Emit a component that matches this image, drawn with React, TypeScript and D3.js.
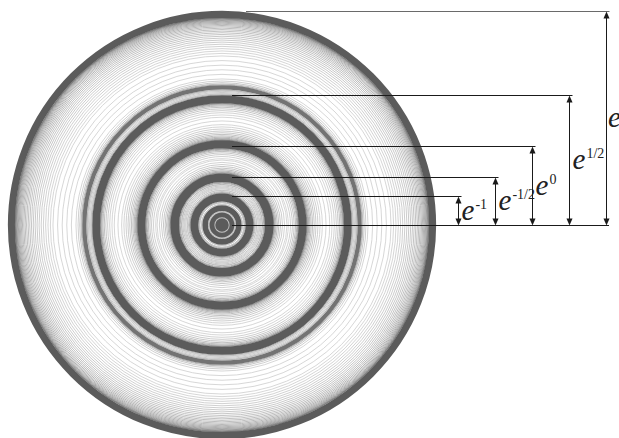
import React from 'react';
import * as d3 from 'd3';

// Radii marked on the right, as powers of e
const exponents = [-1, -0.5, 0, 0.5, 1];
const exponentLabels = ['-1', '-1/2', '0', '1/2', ''];

// Dark rings of the disk, radii in units of e^0 (inner edge, outer edge)
const ringInner = [0, 0.097, 0.178, 0.3, 0.545, 0.972, 1.548, 1.722, 2.63];
const ringOuter = [0.086, 0.158, 0.25, 0.4, 0.655, 1.075, 1.648, 1.775, 2.72];
// Width of the shaded fringe on each side of a ring (same units)
const fringeIn = [0, 0.005, 0.015, 0.04, 0.1, 0.13, 0.15, 0.05, 0.45];
const fringeOut = [0.005, 0.008, 0.035, 0.11, 0.17, 0.2, 0.06, 0.08, 0];
// Ring darkness, 1 = full
const ringTone = [1, 1, 1, 1, 1, 1, 1, 0.78, 1];

const W = 619;
const H = 438;
const CX = 222;
const CY = 225;
const DARK = '#5b5b5b';
const LIGHT = '#cacaca';
// spacing (px) of the fine circles in the plain gap after each ring
const gapStep = [0, 0, 1.8, 2.4, 3.1, 3.7, 4.0, 4.6, 0];

type Circ = { r: number; w: number; c: string };

export default function App() {
  const r = d3.scaleLinear().domain([0, Math.E]).range([0, 214]);
  const xArrow = d3.scalePoint<number>().domain(exponents).range([458, 606]);

  const fine: Circ[] = [];
  const cores: Circ[] = [];

  const fringe = (edge: number, dir: number, width: number, color: string) => {
    if (width <= 0.3) return;
    const n = Math.max(2, Math.ceil(width / 1.4));
    const mix = d3.interpolateRgb(color, LIGHT);
    for (let k = 1; k <= n; k++) {
      const t = k / n;
      const d = width * Math.pow(t, 1.8);
      fine.push({ r: edge + dir * d, w: 0.75, c: mix(Math.pow(t, 0.55)) });
    }
  };

  ringInner.forEach((inn, i) => {
    const rin = r(inn);
    const rout = r(ringOuter[i]);
    const color = d3.interpolateRgb(LIGHT, DARK)(ringTone[i]);
    const fi = r(fringeIn[i]);
    const fo = r(fringeOut[i]);
    fringe(rin, -1, fi, color);
    fringe(rout, 1, fo, color);
    cores.push({ r: (rin + rout) / 2, w: rout - rin, c: color });
    if (i < ringInner.length - 1 && gapStep[i] > 0) {
      const start = rout + fo;
      const end = r(ringInner[i + 1]) - r(fringeIn[i + 1]);
      const step = gapStep[i];
      for (let rr = start + step; rr < end - step * 0.4; rr += step) {
        fine.push({ r: rr, w: 0.75, c: LIGHT });
      }
    }
  });

  const yOf = (k: number) => Math.round(CY - r(Math.exp(k))) + 0.5;
  const yBase = CY + 0.5;
  const ink = '#1a1a1a';

  const head = (x: number, y: number, dir: number) =>
    `M${x},${y} L${x - 3},${y + dir * 7} L${x + 3},${y + dir * 7} Z`;

  return (
    <svg
      width={W}
      height={H}
      style={{ position: 'absolute', left: 0, top: 0, background: '#fff' }}
    >
      <g transform={`translate(${CX},${CY})`} fill="none">
        {fine.map((c, i) => (
          <circle key={'f' + i} r={c.r} stroke={c.c} strokeWidth={c.w} />
        ))}
        {cores.map((c, i) => (
          <circle key={'c' + i} r={c.r} stroke={c.c} strokeWidth={c.w} />
        ))}
      </g>

      <g>
        <line x1={CX + 10} x2={609} y1={yBase} y2={yBase} stroke={ink} strokeWidth={1} />
        {exponents.map((k, i) => {
          const x = Math.round(xArrow(k) as number) + 0.5;
          const y = yOf(k);
          const mid = (y + yBase) / 2;
          return (
            <g key={'d' + i}>
              <line
                x1={k === 1 ? CX + 24 : CX + 10}
                x2={x + 3}
                y1={y}
                y2={y}
                stroke={k === 1 ? '#6a6a6a' : ink}
                strokeWidth={1}
              />
              <line x1={x} x2={x} y1={y + 6} y2={yBase - 6} stroke={ink} strokeWidth={1} />
              <path d={head(x, y, 1)} fill={ink} />
              <path d={head(x, yBase, -1)} fill={ink} />
              <text
                x={k === 1 ? x + 1.5 : x + 3}
                y={mid + 8.5}
                fontFamily="'Liberation Serif', 'DejaVu Serif', serif"
                fill="#222"
              >
                <tspan fontStyle="italic" fontSize={29}>e</tspan>
                {exponentLabels[i] && (
                  <tspan fontSize={14} dy={-11} dx={1}>
                    {exponentLabels[i]}
                  </tspan>
                )}
              </text>
            </g>
          );
        })}
      </g>
    </svg>
  );
}
